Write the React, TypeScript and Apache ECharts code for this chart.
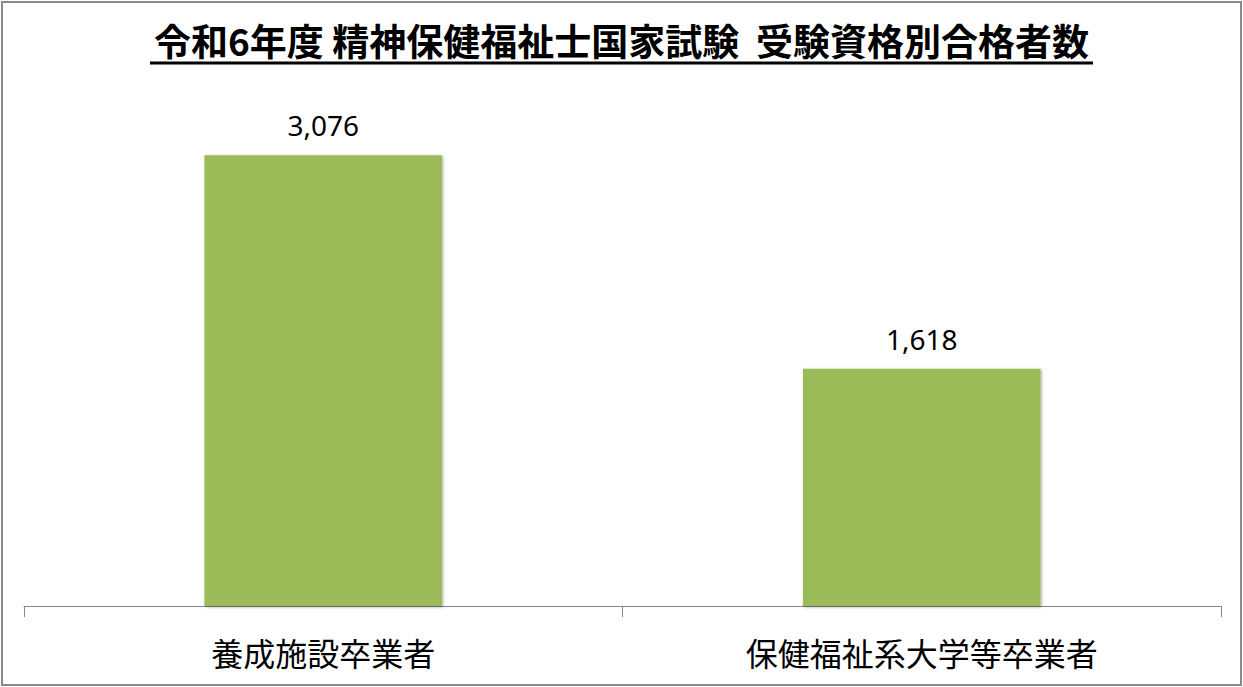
import React, { useEffect, useRef } from "react";
import * as echarts from "echarts";

const TITLE = "令和6年度 精神保健福祉士国家試験  受験資格別合格者数";
const categories = ["養成施設卒業者", "保健福祉系大学等卒業者"];
const passers = [3076, 1618];
const VALUE_MAX = 3500;

export default function App() {
  const ref = useRef<HTMLDivElement>(null);
  useEffect(() => {
    document.body.style.margin = "0";
    const chart = echarts.init(ref.current!, undefined, { renderer: "svg" });
    chart.setOption({
      animation: false,
      backgroundColor: "#ffffff",
      title: {
        text: TITLE,
        left: "center",
        top: 16,
        textStyle: {
          fontFamily: "Noto Sans CJK JP",
          fontSize: 37,
          fontWeight: "bold",
          color: "#000000",
        },
      },
      graphic: [
        {
          type: "rect",
          shape: { x: 2, y: 2, width: 1239, height: 683 },
          style: { fill: "none", stroke: "#8a8a8a", lineWidth: 2 },
          z: 100,
        },
        {
          type: "line",
          shape: { x1: 150, y1: 63, x2: 1093, y2: 63 },
          style: { stroke: "#000000", lineWidth: 3 },
        },
      ],
      grid: { left: 24, right: 22, top: 93, bottom: 81 },
      xAxis: {
        type: "category",
        data: categories,
        axisLine: { show: true, lineStyle: { color: "#878787", width: 1 } },
        axisTick: { show: true, length: 11, lineStyle: { color: "#878787" } },
        axisLabel: {
          fontFamily: "Noto Sans CJK JP",
          fontSize: 32,
          color: "#000000",
          margin: 30,
        },
      },
      yAxis: {
        type: "value",
        min: 0,
        max: VALUE_MAX,
        show: false,
        splitLine: { show: false },
      },
      series: [
        {
          type: "bar",
          data: passers,
          barWidth: "39.7%",
          itemStyle: {
            color: "#9BBB59",
            shadowColor: "rgba(0,0,0,0.35)",
            shadowBlur: 3,
            shadowOffsetX: 1,
            shadowOffsetY: 1,
          },
          label: {
            show: true,
            position: "top",
            distance: 16,
            fontFamily: "Noto Sans",
            fontSize: 28,
            color: "#000000",
            formatter: (p: any) => Number(p.value).toLocaleString("en-US"),
          },
        },
      ],
    });
    return () => chart.dispose();
  }, []);
  return <div ref={ref} style={{ width: 1243, height: 687 }} />;
}
